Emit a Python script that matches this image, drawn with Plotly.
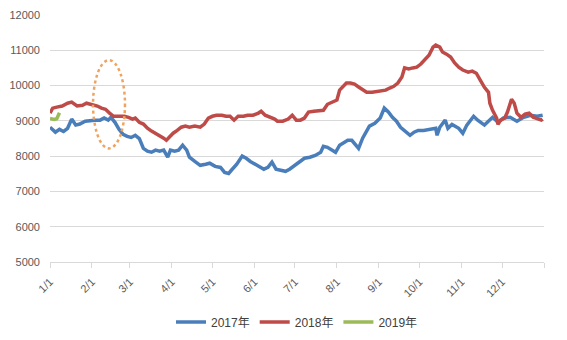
import pandas as pd
import plotly.graph_objects as go

# Day of year (0 = Jan 1) and price for each season
days_2017 = [0, 2, 4, 7, 10, 13, 16, 19, 22, 26, 30, 33, 37, 40, 43, 45, 48, 51, 54, 57,
             60, 63, 66, 69, 72, 75, 78, 81, 84, 86, 87, 89, 92, 95, 98, 101, 103, 107, 111, 115,
             118, 122, 126, 129, 132, 134, 138, 142, 145, 148, 152, 155, 158, 161, 164, 167, 170, 174, 177, 181,
             185, 188, 192, 196, 200, 202, 205, 208, 211, 214, 217, 220, 223, 226, 228, 231, 234, 236, 240, 244,
             247, 250, 253, 256, 259, 262, 266, 269, 272, 276, 281, 285, 286, 288, 292, 294, 297, 302, 305, 308,
             313, 316, 321, 327, 331, 335, 340, 345, 350, 355, 360, 364]
price_2017 = [8820, 8760, 8680, 8760, 8700, 8790, 9050, 8880, 8910, 8990, 9020, 9020, 9020, 9080, 9020, 9100, 8960, 8760, 8620, 8560,
              8530, 8590, 8500, 8220, 8140, 8110, 8170, 8140, 8170, 8050, 7970, 8170, 8140, 8170, 8310, 8170, 7970, 7850, 7740, 7770,
              7800, 7710, 7680, 7540, 7510, 7600, 7770, 8000, 7940, 7850, 7770, 7710, 7630, 7680, 7830, 7630, 7600, 7570, 7630, 7740,
              7850, 7940, 7970, 8020, 8110, 8280, 8250, 8170, 8110, 8310, 8390, 8450, 8450, 8310, 8220, 8510, 8730, 8850, 8930, 9080,
              9360, 9250, 9100, 8990, 8820, 8730, 8590, 8680, 8730, 8730, 8760, 8790, 8590, 8820, 9020, 8790, 8900, 8790, 8650, 8880,
              9130, 9020, 8880, 9100, 8960, 9080, 9100, 8990, 9100, 9160, 9130, 9160]

days_2018 = [0, 2, 5, 9, 13, 16, 20, 24, 27, 31, 35, 38, 41, 44, 47, 51, 55, 58, 61, 63,
             66, 69, 72, 75, 78, 81, 84, 86, 88, 91, 94, 97, 100, 103, 107, 111, 114, 117, 120, 123,
             127, 130, 133, 136, 139, 143, 146, 150, 154, 156, 159, 163, 166, 168, 172, 176, 179, 182, 185, 188,
             191, 195, 199, 202, 205, 209, 212, 214, 217, 219, 222, 225, 228, 231, 234, 238, 242, 245, 248, 251,
             254, 257, 260, 262, 265, 268, 271, 274, 277, 280, 283, 285, 288, 290, 293, 296, 299, 302, 305, 309,
             312, 315, 318, 321, 324, 325, 327, 330, 331, 333, 336, 338, 341, 343, 345, 348, 351, 354, 357, 360,
             363, 364]
price_2018 = [9220, 9360, 9390, 9420, 9500, 9530, 9420, 9440, 9500, 9470, 9420, 9360, 9330, 9220, 9130, 9130, 9130, 9100, 9050, 9080,
              8960, 8910, 8790, 8710, 8650, 8590, 8510, 8450, 8530, 8650, 8730, 8820, 8850, 8820, 8850, 8820, 8910, 9080, 9130, 9160,
              9160, 9130, 9130, 9020, 9130, 9130, 9160, 9160, 9220, 9270, 9160, 9100, 9050, 8990, 8990, 9050, 9160, 9020, 9020, 9080,
              9250, 9270, 9300, 9300, 9470, 9530, 9590, 9870, 10010, 10070, 10070, 10040, 9960, 9870, 9810, 9810, 9840, 9840, 9870, 9930,
              9980, 10070, 10240, 10500, 10470, 10500, 10520, 10610, 10750, 10860, 11090, 11150, 11090, 10950, 10890, 10810, 10640, 10520, 10440, 10380,
              10410, 10350, 10150, 9950, 9810, 9500, 9300, 9080, 8900, 9020, 9080, 9250, 9610, 9500, 9220, 9100, 9190, 9220, 9100, 9050,
              9020, 9050]

days_2019 = [0, 3, 5, 7]
price_2019 = [9070, 9040, 9060, 9230]

month_ticks = ["1/1", "2/1", "3/1", "4/1", "5/1", "6/1", "7/1", "8/1", "9/1", "10/1", "11/1", "12/1"]

BASE = pd.Timestamp("2017-01-01")


def to_dates(days):
    return [BASE + pd.Timedelta(days=d) for d in days]


series = [
    ("2017年", days_2017, price_2017, "#4A7EBB"),
    ("2018年", days_2018, price_2018, "#BE4B48"),
    ("2019年", days_2019, price_2019, "#9BBB59"),
]

fig = go.Figure()
for name, d, p, color in series:
    fig.add_trace(go.Scatter(
        x=to_dates(d), y=p, name=name, mode="lines",
        line=dict(color=color, width=3.5),
    ))

tick_dates = [pd.Timestamp(f"2017-{m:02d}-01") for m in range(1, 13)] + [pd.Timestamp("2018-01-01")]
tick_text = month_ticks + [""]

# dotted ellipse highlighting mid-February
hl_center = BASE + pd.Timedelta(days=43.6)
hl_half = pd.Timedelta(days=11.8)
hl_low, hl_high = 8220, 10720

fig.add_shape(
    type="circle", xref="x", yref="y",
    x0=hl_center - hl_half, x1=hl_center + hl_half, y0=hl_low, y1=hl_high,
    line=dict(color="#F0A35E", width=2.5, dash="dot"),
)

axis_font = dict(family="Liberation Sans, Arial, sans-serif", size=11, color="#595959")

fig.update_layout(
    width=567, height=340,
    margin=dict(l=50, r=23, t=15, b=78, autoexpand=False),
    paper_bgcolor="white", plot_bgcolor="white",
    showlegend=True,
    legend=dict(
        orientation="h", x=0.5, xanchor="center",
        yref="container", y=0.053, yanchor="middle",
        font=dict(family="Liberation Sans, Noto Sans CJK SC, sans-serif", size=12, color="#404040"),
        itemwidth=30,
    ),
    xaxis=dict(
        type="date", automargin=False,
        range=[BASE, pd.Timestamp("2018-01-01")],
        tickvals=tick_dates, ticktext=tick_text,
        tickangle=-45, tickfont=axis_font,
        ticks="outside", ticklen=5, tickcolor="#D9D9D9", ticklabelstandoff=3,
        showgrid=False, showline=True, linecolor="#D9D9D9", linewidth=1,
        zeroline=False,
    ),
    yaxis=dict(
        automargin=False,
        range=[5000, 12000], dtick=1000, tickformat="d",
        tickfont=axis_font, showgrid=True, gridcolor="#D9D9D9", gridwidth=1,
        zeroline=False, showline=False, ticks="", ticklabelstandoff=9,
    ),
)

fig.write_html("out.html")
